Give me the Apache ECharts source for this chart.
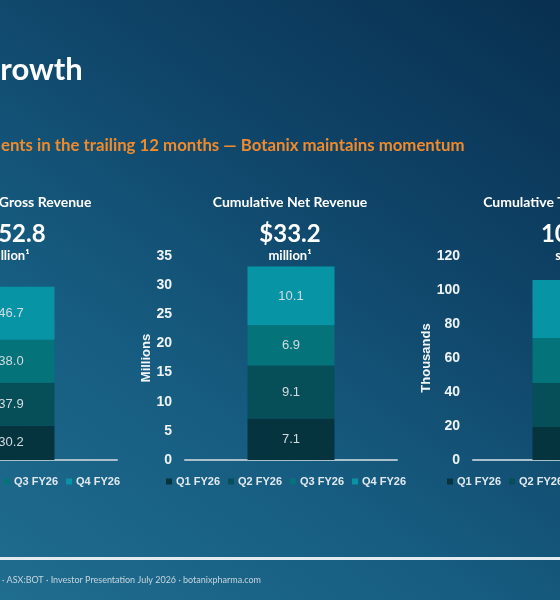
<!DOCTYPE html>
<html>
<head>
<meta charset="utf-8">
<script src="https://cdn.jsdelivr.net/npm/echarts@6/dist/echarts.min.js"></script>
<style>
html,body{margin:0;padding:0;width:560px;height:600px;overflow:hidden;position:relative;}
body{background:linear-gradient(35deg,#1f6d8f 0%,#165c80 35%,#0f4569 65%,#082f4f 100%);}
#c{position:absolute;left:-200px;top:0;width:960px;height:600px;}
</style>
</head>
<body>
<div id="c"></div>
<script>
const categories = ['TTM'];
const quarters = ['Q1 FY26', 'Q2 FY26', 'Q3 FY26', 'Q4 FY26'];
const grossRevenue = [30.2, 37.9, 38.0, 46.7];
const netRevenue = [7.1, 9.1, 6.9, 10.1];
const prescriptions = [19.4, 25.9, 26.5, 34.1];
const panelTitles = ['Cumulative Gross Revenue', 'Cumulative Net Revenue', 'Cumulative Total Prescriptions'];
const headlines = ['$152.8', '$33.2', '105.9k'];
const units = ['million¹', 'million¹', 'shipped'];
const axisNames = ['Millions', 'Millions', 'Thousands'];
const axisMax = [180, 35, 120];
const axisInterval = [20, 5, 20];
const pageTitle = 'Growth';
const subtitle = 'ents in the trailing 12 months — Botanix maintains momentum';
const footer = 'Botanix Pharmaceuticals Ltd · ASX:BOT · Investor Presentation July 2026 · botanixpharma.com';

const panelData = [grossRevenue, netRevenue, prescriptions];
const quarterColors = ['#05343f', '#064f59', '#05737a', '#0795a5'];
const OX = 200; // container offset
const gridLeft = [-95 + OX, 185 + OX, 473 + OX];
const gridW = [212, 212, 206];
const centers = [8 + OX, 290 + OX, 578 + OX];
const nameGaps = [25, 25, 31];
const legendLeft = [-125 + OX, 161 + OX, 442 + OX];

const chart = echarts.init(document.getElementById('c'), null, {renderer: 'canvas'});

const grids = [], xAxes = [], yAxes = [], series = [], legends = [], graphics = [];
for (let p = 0; p < 3; p++) {
  grids.push({left: gridLeft[p], width: gridW[p], top: 256, bottom: 140, containLabel: false});
  xAxes.push({
    type: 'category', gridIndex: p, data: categories,
    axisLine: {show: true, lineStyle: {color: '#a9bfcb', width: 2}},
    axisTick: {show: false}, axisLabel: {show: false}
  });
  yAxes.push({
    type: 'value', gridIndex: p, min: 0, max: axisMax[p], interval: axisInterval[p],
    name: axisNames[p], nameLocation: 'middle', nameRotate: 90, nameGap: nameGaps[p],
    nameTextStyle: {color: '#f2f6f8', fontSize: 13, fontWeight: 'bold', fontFamily: 'Liberation Sans'},
    axisLine: {show: false}, axisTick: {show: false}, splitLine: {show: false},
    axisLabel: {color: '#eef3f6', fontSize: 14, fontWeight: 'bold', margin: 13, fontFamily: 'Liberation Sans Narrow, Liberation Sans'}
  });
  for (let q = 0; q < 4; q++) {
    series.push({
      type: 'bar', name: quarters[q], xAxisIndex: p, yAxisIndex: p, stack: 'p' + p,
      barWidth: 87, data: [panelData[p][q]],
      itemStyle: {color: quarterColors[q]},
      label: {show: true, position: 'inside', color: '#d3dcdf', fontSize: 13,
        fontFamily: 'Liberation Sans Narrow, Liberation Sans', formatter: (v) => v.value.toFixed(1)}
    });
  }
  legends.push({
    data: quarters, left: legendLeft[p], top: 471, icon: 'rect', itemWidth: 6, itemHeight: 6,
    itemGap: 8, selectedMode: false, orient: 'horizontal',
    textStyle: {color: '#e2e9ee', fontSize: 11, fontWeight: 'bold', fontFamily: 'Liberation Sans', padding: [0, 0, 0, -1]}
  });
  graphics.push(
    {type: 'text', style: {text: panelTitles[p], x: centers[p], y: 202, align: 'center', verticalAlign: 'middle',
      fill: '#ffffff', font: 'bold 14px Lato'}},
    {type: 'text', style: {text: headlines[p], x: centers[p], y: 234, align: 'center', verticalAlign: 'middle',
      fill: '#ffffff', font: 'bold 24px Lato'}},
    {type: 'text', style: {text: units[p], x: centers[p], y: 256, align: 'center', verticalAlign: 'middle',
      fill: '#ffffff', font: 'bold 13px Lato'}}
  );
}

graphics.push(
  {type: 'text', style: {text: pageTitle, x: -22 + OX, y: 70, verticalAlign: 'middle', fill: '#ffffff', font: 'bold 31px Lato'}},
  {type: 'text', style: {text: subtitle, x: 1 + OX, y: 146, verticalAlign: 'middle', fill: '#f18a2b', font: 'bold 16.8px Lato'}},
  {type: 'rect', shape: {x: OX, y: 557, width: 560, height: 3}, style: {fill: '#e3ebf0'}},
  {type: 'text', style: {text: footer, x: 261 + OX, y: 580, align: 'right', verticalAlign: 'middle', fill: '#c7d5de', font: '9px Lato'}}
);

chart.setOption({
  backgroundColor: 'transparent',
  animation: false,
  grid: grids, xAxis: xAxes, yAxis: yAxes, series: series, legend: legends,
  graphic: graphics
});
</script>
</body>
</html>
